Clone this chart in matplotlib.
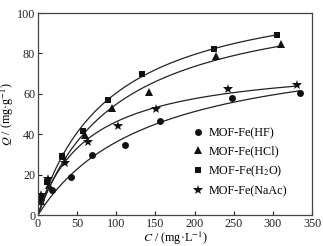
import numpy as np
import matplotlib.pyplot as plt

plt.rcParams['font.family'] = ['Liberation Serif', 'DejaVu Serif']
plt.rcParams['mathtext.fontset'] = 'stix'

# equilibrium concentration C (mg/L) and uptake Q (mg/g)
c_hf = np.array([4, 18.4, 41.8, 69.6, 111.4, 155.4, 247.5, 334.2])
q_hf = np.array([8, 12.4, 18.8, 29.6, 34.9, 46.4, 57.9, 60.5])
c_hcl = np.array([4, 14, 32, 60.2, 93.9, 142, 227.9, 310.7])
q_hcl = np.array([7, 15, 29, 39.7, 52.9, 60.7, 78.5, 84.6])
c_h2o = np.array([3.4, 12, 31, 57.6, 89.6, 132.7, 224.5, 305.6])
q_h2o = np.array([9, 16.5, 29, 41.7, 57.0, 69.9, 82.2, 89.3])
c_naac = np.array([4, 13, 35, 63.6, 102.4, 150.2, 242.8, 330.8])
q_naac = np.array([10, 17.7, 25.6, 35.9, 44.1, 52.4, 62.5, 64.3])

labels = ['MOF-Fe(HF)', 'MOF-Fe(HCl)', 'MOF-Fe(H$_2$O)', 'MOF-Fe(NaAc)']
markers = ['o', '^', 's', '*']
sizes = [5, 5.5, 4.8, 7.5]


def langmuir_fit(c, q):
    # grid search on K, closed form for Qm
    best = None
    for k in np.logspace(-4, 0, 2000):
        f = k * c / (1 + k * c)
        qm = np.sum(q * f) / np.sum(f * f)
        err = np.sum((q - qm * f) ** 2)
        if best is None or err < best[0]:
            best = (err, k, qm)
    return best[1], best[2]


fig = plt.figure(figsize=(3.23, 2.46), dpi=100)
ax = fig.add_axes([38 / 323, 31 / 246, 274 / 323, 202 / 246])

data = [(c_hf, q_hf), (c_hcl, q_hcl), (c_h2o, q_h2o), (c_naac, q_naac)]
for (c, q), lab, m, s in zip(data, labels, markers, sizes):
    k, qm = langmuir_fit(c, q)
    xc = np.linspace(0, c.max(), 200)
    ax.plot(xc, qm * k * xc / (1 + k * xc), color='#222222', lw=0.9)
    ax.plot(c, q, m, color='#111111', ms=s, mew=0, label=lab)

ax.set_xlim(0, 350)
ax.set_ylim(0, 100)
ax.set_xticks(np.arange(0, 351, 50))
ax.set_yticks(np.arange(0, 101, 20))
ax.tick_params(direction='in', length=3, width=0.8, labelsize=8.7, pad=2,
               top=False, right=False, colors='#222222')
for sp in ax.spines.values():
    sp.set_color('#444444')
    sp.set_linewidth(0.9)

ax.set_xlabel('$C$ / (mg·L$^{-1}$)', fontsize=8.7)
ax.set_ylabel('$Q$ / (mg·g$^{-1}$)', fontsize=8.7)
ax.xaxis.set_label_coords(0.5, -0.075)
ax.yaxis.set_label_coords(-0.08, 0.5)

ax.legend(loc='lower right', bbox_to_anchor=(0.93, 0.06), frameon=False,
          fontsize=8.7, handlelength=0.8, handletextpad=0.4,
          labelspacing=0.5, borderpad=0)

fig.savefig('out.png', dpi=100)
